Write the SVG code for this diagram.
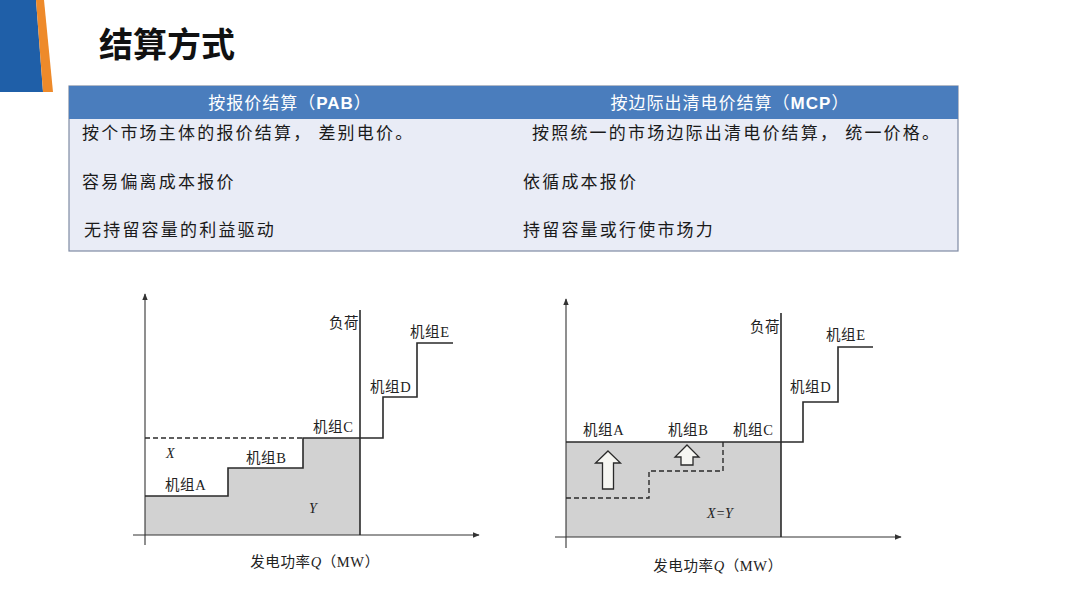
<svg xmlns="http://www.w3.org/2000/svg" width="1080" height="607" viewBox="0 0 1080 607">
<style>
.cjk{font-family:"Noto Sans CJK SC","Liberation Sans",sans-serif;}
.row{font-family:"Noto Sans CJK SC","Liberation Sans",sans-serif;font-size:17px;fill:#1a1a1a;letter-spacing:2.2px;}
.hd{font-family:"Noto Sans CJK SC","Liberation Sans",sans-serif;font-size:17px;fill:#ffffff;text-anchor:middle;letter-spacing:1px;}
.lbl{font-family:"Liberation Serif","Noto Sans CJK SC",serif;font-size:14.5px;fill:#222;letter-spacing:0.6px;}
.it{font-family:"Liberation Serif",serif;font-style:italic;font-size:14px;fill:#222;}
.ln{fill:none;stroke:#2a2a2a;stroke-width:1.6;}
.ax{fill:none;stroke:#333;stroke-width:1.1;}
.dash{fill:none;stroke:#2a2a2a;stroke-width:1.4;stroke-dasharray:5,3;}
.area{fill:#d2d2d2;stroke:none;}
.harrow{fill:#f6f6f2;stroke:#2a2a2a;stroke-width:1.3;}
</style>
<defs>
<marker id="ah" viewBox="0 0 10 10" refX="9" refY="5" markerWidth="7" markerHeight="7" orient="auto" markerUnits="userSpaceOnUse">
<path d="M0,1 L10,5 L0,9 Z" fill="#333"/>
</marker>
</defs>
<rect width="1080" height="607" fill="#ffffff"/>
<g id="corner">
<polygon points="0,0 36,0 43,92 0,92" fill="#1f5fa8"/>
<polygon points="36,0 44,0 53,92 43,92" fill="#ee8a2a"/>
</g>
<text id="title" x="99" y="57" class="cjk" font-size="34" font-weight="bold" fill="#111">结算方式</text>
<g id="table">
<rect x="69" y="86" width="889" height="165" fill="#e9ecf6" stroke="#7f8ba3" stroke-width="1.2"/>
<rect x="69" y="86" width="889" height="33" fill="#4a7dbd"/>
<text x="290" y="109" class="hd">按报价结算（<tspan font-family="Liberation Sans,sans-serif" font-weight="bold">PAB</tspan>）</text>
<text x="730" y="109" class="hd">按边际出清电价结算（<tspan font-family="Liberation Sans,sans-serif" font-weight="bold">MCP</tspan>）</text>
<text x="82" y="139" class="row">按个市场主体的报价结算， 差别电价。</text>
<text x="82" y="188" class="row">容易偏离成本报价</text>
<text x="84" y="236" class="row">无持留容量的利益驱动</text>
<text x="532" y="139" class="row" letter-spacing="2.8">按照统一的市场边际出清电价结算， 统一价格。</text>
<text x="523" y="188" class="row">依循成本报价</text>
<text x="523" y="236" class="row">持留容量或行使市场力</text>
</g>
<g id="chart-pab">
<polygon class="area" points="145,535 145,496 228,496 228,468 303,468 303,438 360,438 360,535"/>
<line class="ax" x1="145" y1="545" x2="145" y2="294" marker-end="url(#ah)"/>
<line class="ax" x1="133" y1="535" x2="479" y2="535" marker-end="url(#ah)"/>
<line class="ln" x1="360" y1="310" x2="360" y2="535"/>
<line class="dash" x1="145" y1="438" x2="303" y2="438"/>
<polyline class="ln" points="145,496 228,496 228,468 303,468 303,438 383,438 383,397 417,397 417,343 453,343"/>
<text x="329" y="328" class="lbl">负荷</text>
<text x="410" y="337" class="lbl">机组E</text>
<text x="370" y="392" class="lbl">机组D</text>
<text x="313" y="432" class="lbl">机组C</text>
<text x="246" y="463" class="lbl">机组B</text>
<text x="165" y="490" class="lbl">机组A</text>
<text x="166" y="458" class="it">X</text>
<text x="309" y="513" class="it">Y</text>
<text x="315" y="567" class="lbl" text-anchor="middle">发电功率<tspan font-style="italic">Q</tspan>（MW）</text>
</g>
<g id="chart-mcp">
<rect class="area" x="566" y="442" width="215" height="95"/>
<line class="ax" x1="566" y1="548" x2="566" y2="299" marker-end="url(#ah)"/>
<line class="ax" x1="555" y1="537" x2="901" y2="537" marker-end="url(#ah)"/>
<line class="ln" x1="781" y1="313" x2="781" y2="537"/>
<polyline class="ln" points="566,442 803,442 803,402 838,402 838,347 873,347"/>
<polyline class="dash" points="566,498 649,498 649,471 723,471 723,442"/>
<polygon class="harrow" points="608,451 620.5,463 613.5,463 613.5,489 602.5,489 602.5,463 595.5,463"/>
<polygon class="harrow" points="687,445 699,457 693,457 693,465 681,465 681,457 675,457"/>
<text x="750" y="332" class="lbl">负荷</text>
<text x="826" y="340" class="lbl">机组E</text>
<text x="790" y="392" class="lbl">机组D</text>
<text x="583" y="435" class="lbl">机组A</text>
<text x="668" y="435" class="lbl">机组B</text>
<text x="733" y="435" class="lbl">机组C</text>
<text x="720" y="518" class="it" text-anchor="middle">X=Y</text>
<text x="718" y="571" class="lbl" text-anchor="middle">发电功率<tspan font-style="italic">Q</tspan>（MW）</text>
</g>
</svg>
